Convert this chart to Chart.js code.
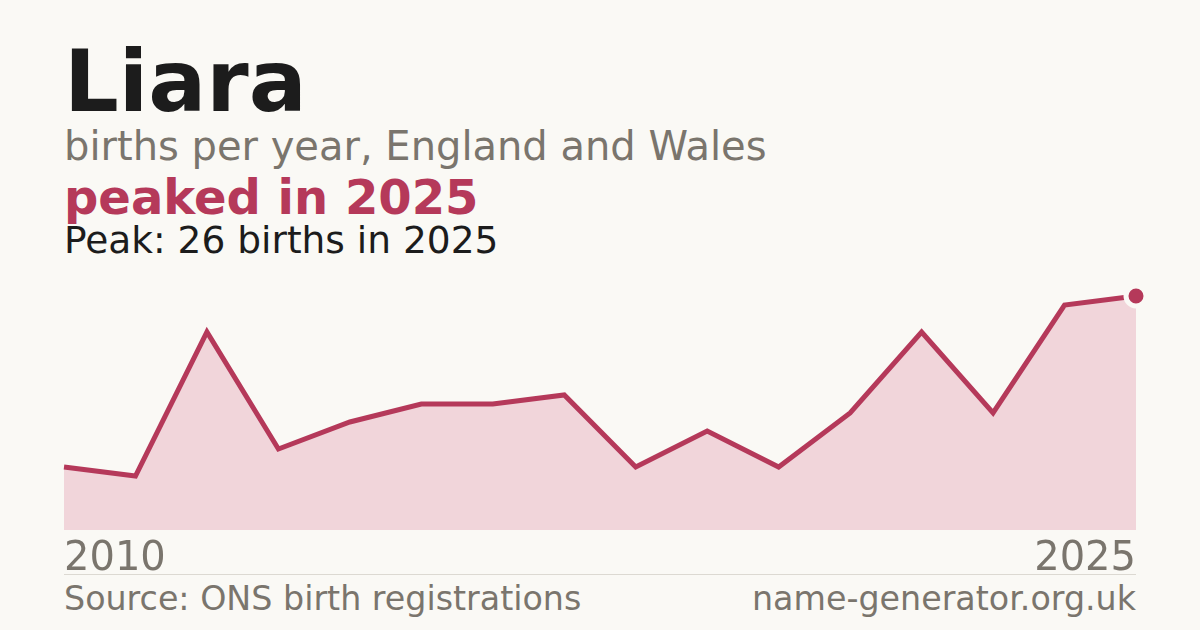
<!DOCTYPE html>
<html>
<head>
<meta charset="utf-8">
<script src="https://cdn.jsdelivr.net/npm/chart.js@4"></script>
<style>
  html, body { margin:0; padding:0; }
  body { width:1200px; height:630px; background:#faf9f5; position:relative; overflow:hidden; font-family:"DejaVu Sans", sans-serif; }
  .t { position:absolute; line-height:1; white-space:nowrap; margin:0; }
  #title { left:64px; top:38px; font-size:86px; font-weight:bold; color:#1c1c1c; }
  #sub { left:64px; top:126px; font-size:40px; color:#7a756d; }
  #headline { left:64px; top:172.5px; font-size:48px; font-weight:bold; color:#b5395a; }
  #peak { left:64px; top:221.5px; font-size:37.5px; color:#1c1c1c; }
  #tickL { left:64px; top:536px; font-size:40px; color:#7a756d; }
  #tickR { right:64px; top:536px; font-size:40px; color:#7a756d; text-align:right; }
  #rule { position:absolute; left:64px; width:1072px; top:574px; height:1px; background:#dcd9d2; }
  #src { left:64px; top:582px; font-size:33.3px; color:#7a756d; }
  #site { right:64px; top:582px; font-size:33.3px; color:#7a756d; text-align:right; }
  #wrap { position:absolute; left:40px; top:270px; width:1120px; height:280px; }
</style>
</head>
<body>
<div class="t" id="title">Liara</div>
<div class="t" id="sub">births per year, England and Wales</div>
<div class="t" id="headline">peaked in 2025</div>
<div class="t" id="peak">Peak: 26 births in 2025</div>
<div id="wrap"><canvas id="c" width="1120" height="280"></canvas></div>
<div class="t" id="tickL"></div>
<div class="t" id="tickR"></div>
<div id="rule"></div>
<div class="t" id="src">Source: ONS birth registrations</div>
<div class="t" id="site">name-generator.org.uk</div>
<script>
const years = ['2010','2011','2012','2013','2014','2015','2016','2017','2018','2019','2020','2021','2022','2023','2024','2025'];
const births = [7, 6, 22, 9, 12, 14, 14, 15, 7, 11, 7, 13, 22, 13, 25, 26];
const tickLabels = ['2010', '2025'];

document.getElementById('tickL').textContent = tickLabels[0];
document.getElementById('tickR').textContent = tickLabels[1];

const peakIdx = births.indexOf(Math.max(...births));
const lineColor = '#b5395a';
const bg = '#faf9f5';

new Chart(document.getElementById('c'), {
  type: 'line',
  data: {
    labels: years,
    datasets: [{
      data: births,
      borderColor: lineColor,
      borderWidth: 5,
      backgroundColor: '#f1d5da',
      fill: 'origin',
      tension: 0,
      clip: false,
      pointRadius: births.map((v, i) => i === peakIdx ? 10 : 0),
      pointHoverRadius: births.map((v, i) => i === peakIdx ? 10 : 0),
      pointBackgroundColor: lineColor,
      pointBorderColor: bg,
      pointBorderWidth: 5
    }]
  },
  options: {
    responsive: false,
    animation: false,
    events: [],
    layout: { padding: { left: 24, right: 24, top: 26, bottom: 20 } },
    plugins: { legend: { display: false }, tooltip: { enabled: false } },
    scales: {
      x: { display: false, offset: false },
      y: { display: false, min: 0, max: Math.max(...births) }
    }
  }
});
</script>
</body>
</html>
